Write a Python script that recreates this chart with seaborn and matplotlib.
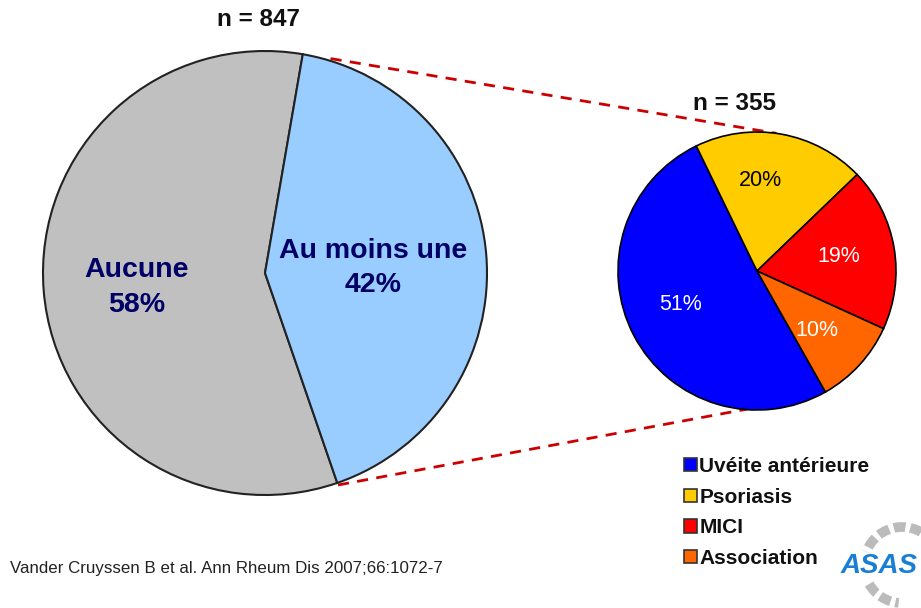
import numpy as np
import seaborn as sns
import matplotlib.pyplot as plt
from matplotlib.patches import Patch, Arc

# data
main_labels = ["Aucune", "Au moins une"]
main_pct = [58, 42]
main_n = 847

sub_labels = ["Uvéite antérieure", "Psoriasis", "MICI", "Association"]
sub_pct = [51, 20, 19, 10]
sub_n = 355

source = "Vander Cruyssen B et al. Ann Rheum Dis 2007;66:1072-7"

# style
sns.set_theme(style="white")
plt.rcParams["font.family"] = ["Liberation Sans", "DejaVu Sans"]

main_colors = ["#c0c0c0", "#99ccff"]
sub_colors = ["#0000ff", "#ffcc00", "#ff0000", "#ff6600"]
sub_text_colors = ["white", "black", "white", "white"]
navy = "#000066"

W, H = 921, 608
fig = plt.figure(figsize=(W / 100, H / 100), dpi=100)
ax = fig.add_axes([0, 0, 1, 1])

# big pie (pixel coords, y up)
big_c, big_r = (265, H - 273), 222
big_start = 80.2
wedges, _ = ax.pie(main_pct, colors=main_colors, startangle=big_start,
                   counterclock=True, center=big_c, radius=big_r,
                   wedgeprops=dict(edgecolor="#222222", linewidth=1.5))

# labels on big pie
label_frac = [0.58, 0.49]
for w, lab, p, f in zip(wedges, main_labels, main_pct, label_frac):
    mid = np.deg2rad((w.theta1 + w.theta2) / 2)
    x = big_c[0] + f * big_r * np.cos(mid)
    y = big_c[1] + f * big_r * np.sin(mid) - 4
    ax.text(x, y, f"{lab}\n{p}%", ha="center", va="center", fontsize=20.5,
            fontweight="bold", color=navy, linespacing=1.42)

# small pie
sm_c, sm_r = (757, H - 271), 139
sm_wedges, _, autotexts = ax.pie(sub_pct, colors=sub_colors, startangle=-60.5,
                                 counterclock=False, center=sm_c, radius=sm_r,
                                 autopct=lambda p: f"{p:.0f}%", pctdistance=0.62,
                                 wedgeprops=dict(edgecolor="black", linewidth=1.2),
                                 textprops=dict(fontsize=15.5))
# label placement (pixels from the pie centre)
pct_offsets = [(-76, -34), (3, 91), (82, 15), (60, -59)]
for t, c, (dx, dy) in zip(autotexts, sub_text_colors, pct_offsets):
    t.set_color(c)
    t.set_position((sm_c[0] + dx, sm_c[1] + dy))

# dashed connecting lines from the blue wedge edge to the small pie
def on_circle(c, r, ang):
    a = np.deg2rad(ang)
    return c[0] + r * np.cos(a), c[1] + r * np.sin(a)

for a_big, a_sm, f_sm in [(73, 82, 1.0), (-71, -86, 0.97)]:
    x0, y0 = on_circle(big_c, big_r * 1.01, a_big)
    x1, y1 = on_circle(sm_c, sm_r * f_sm, a_sm)
    ax.plot([x0, x1], [y0, y1], color="#cc0000", linestyle=(0, (4, 3)),
            linewidth=2, zorder=0.5)

# titles
ax.text(258, H - 20, f"n = {main_n}", ha="center", va="center",
        fontsize=17.5, fontweight="bold", color="#111111")
ax.text(734, H - 103, f"n = {sub_n}", ha="center", va="center",
        fontsize=17.5, fontweight="bold", color="#111111")

# legend
handles = [Patch(facecolor=c, edgecolor="#333333", linewidth=1.2) for c in sub_colors]
leg = ax.legend(handles, sub_labels, loc="upper left",
                bbox_to_anchor=(684 / W, 1 - 457 / H), frameon=False,
                borderpad=0, borderaxespad=0, handlelength=0.62, handleheight=0.62,
                handletextpad=0.12, labelspacing=0.56,
                prop=dict(size=15, weight="bold"))
for t in leg.get_texts():
    t.set_color("#111111")

# source
ax.text(10, H - 569, source, ha="left", va="center", fontsize=12.2, color="#222222")

# ASAS logo (approximation)
ax.add_patch(Arc((902, H - 565), 76, 76, theta1=35, theta2=160, color="#bbbbbb",
                 linewidth=7, linestyle=(0, (1.2, 0.5))))
ax.add_patch(Arc((902, H - 565), 76, 76, theta1=210, theta2=265, color="#bbbbbb",
                 linewidth=7, linestyle=(0, (1.2, 0.5))))
ax.text(918, H - 566, "ASAS", ha="right", va="center", fontsize=20,
        fontweight="bold", fontstyle="italic", color="#1a7fd4")

ax.set_xlim(0, W)
ax.set_ylim(0, H)
ax.set_aspect("equal")
ax.axis("off")

fig.savefig("out.png", dpi=100)
